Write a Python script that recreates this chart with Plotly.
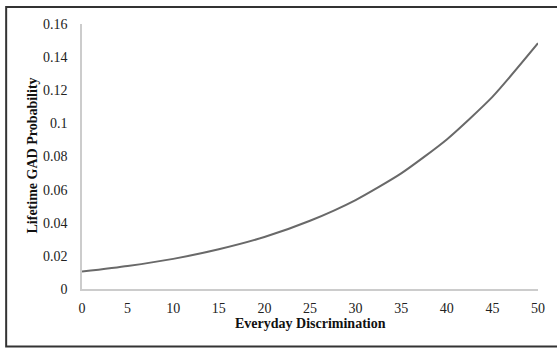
import plotly.graph_objects as go

discrimination = [0, 5, 10, 15, 20, 25, 30, 35, 40, 45, 50]
gad_probability = [0.0105, 0.0139, 0.0182, 0.0240, 0.0314, 0.0412, 0.0537, 0.0698, 0.0903, 0.1160, 0.1484]
x_ticks = [0, 5, 10, 15, 20, 25, 30, 35, 40, 45, 50]
y_ticks = [0, 0.02, 0.04, 0.06, 0.08, 0.1, 0.12, 0.14, 0.16]
y_tick_text = ["0", "0.02", "0.04", "0.06", "0.08", "0.1", "0.12", "0.14", "0.16"]

FONT = "Liberation Serif, Times New Roman, serif"

fig = go.Figure()
fig.add_trace(go.Scatter(
    x=discrimination, y=gad_probability, mode="lines",
    line=dict(color="#696969", width=2, shape="spline", smoothing=0.6),
    hoverinfo="x+y", showlegend=False,
))

fig.update_layout(
    width=557, height=349,
    margin=dict(l=82, r=15, t=24, b=60, pad=0),
    paper_bgcolor="white", plot_bgcolor="white",
    font=dict(family=FONT, size=14, color="#222222"),
    xaxis=dict(
        range=[0, 50], tickvals=x_ticks, showgrid=False, zeroline=False,
        showline=True, linecolor="#cccccc", linewidth=1.5,
        ticks="", ticklabelstandoff=5, tickfont=dict(family=FONT, size=14, color="#222222"),
    ),
    yaxis=dict(
        range=[0, 0.16], tickvals=y_ticks, ticktext=y_tick_text, showgrid=False, zeroline=False,
        showline=True, linecolor="#cccccc", linewidth=1.5,
        ticks="", ticklabelstandoff=10, tickfont=dict(family=FONT, size=14, color="#222222"),
    ),
    annotations=[
        dict(text="<b>Everyday Discrimination</b>", xref="paper", yref="paper",
             x=0.5, y=-0.13, showarrow=False, xanchor="center", yanchor="middle",
             font=dict(family=FONT, size=14, color="#111111")),
        dict(text="<b>Lifetime GAD Probability</b>", xref="paper", yref="paper",
             x=-0.1085, y=0.502, showarrow=False, textangle=-90,
             xanchor="center", yanchor="middle",
             font=dict(family=FONT, size=14, color="#111111")),
    ],
    shapes=[
        dict(type="rect", xref="paper", yref="paper",
             x0=-0.1663, x1=1.05, y0=-0.2170, y1=1.0642,
             line=dict(color="#333333", width=2), fillcolor="rgba(0,0,0,0)", layer="below"),
    ],
)

fig.write_html("out.html", config={"displayModeBar": False},
               post_script="document.body.style.margin='0';document.body.style.padding='0';")
